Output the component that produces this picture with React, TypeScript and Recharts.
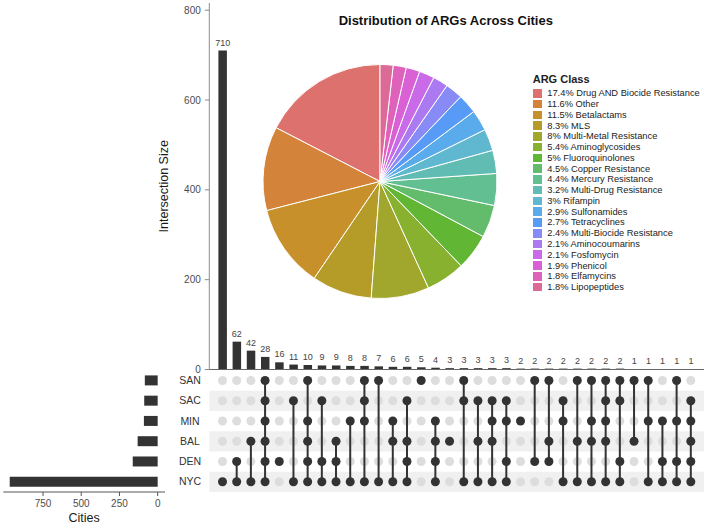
import React from 'react';
import {
  BarChart, Bar, XAxis, YAxis, LabelList, ReferenceLine, ReferenceArea,
  ScatterChart, Scatter, PieChart, Pie, Cell, Legend,
} from 'recharts';

// sets, top row first
const CITIES = ['SAN', 'SAC', 'MIN', 'BAL', 'DEN', 'NYC'];
const SET_SIZES = [84, 88, 90, 131, 163, 968];

// intersections, largest first
const INTERSECTION_SIZES = [
  710, 62, 42, 28, 16, 11, 10, 9, 9, 8, 8, 7, 6, 6, 5, 4, 3,
  3, 3, 3, 3, 2, 2, 2, 2, 2, 2, 2, 2, 1, 1, 1, 1, 1,
];
const INTERSECTION_SETS = [
  ['NYC'],
  ['DEN', 'NYC'],
  ['BAL', 'NYC'],
  ['SAN', 'SAC', 'MIN', 'BAL', 'DEN', 'NYC'],
  ['DEN'],
  ['SAC', 'NYC'],
  ['SAN', 'MIN', 'BAL', 'DEN', 'NYC'],
  ['SAC', 'DEN', 'NYC'],
  ['BAL', 'DEN', 'NYC'],
  ['MIN', 'NYC'],
  ['SAN', 'SAC', 'MIN', 'NYC'],
  ['SAN', 'NYC'],
  ['MIN', 'BAL', 'NYC'],
  ['SAC', 'BAL', 'DEN', 'NYC'],
  ['SAN'],
  ['MIN', 'BAL', 'DEN', 'NYC'],
  ['BAL'],
  ['SAN', 'SAC', 'NYC'],
  ['SAC', 'BAL', 'NYC'],
  ['SAC', 'MIN', 'BAL', 'NYC'],
  ['SAC', 'MIN', 'DEN', 'NYC'],
  ['MIN'],
  ['SAN', 'DEN'],
  ['SAN', 'BAL', 'DEN'],
  ['SAC', 'MIN', 'NYC'],
  ['SAN', 'BAL', 'NYC'],
  ['SAN', 'MIN', 'BAL', 'NYC'],
  ['SAN', 'SAC', 'MIN', 'BAL', 'NYC'],
  ['SAN', 'SAC', 'DEN', 'NYC'],
  ['SAN', 'BAL'],
  ['SAN', 'MIN', 'NYC'],
  ['MIN', 'DEN', 'NYC'],
  ['SAN', 'MIN', 'DEN', 'NYC'],
  ['SAC', 'MIN', 'BAL', 'DEN', 'NYC'],
];

// ARG class shares (%)
const ARG_CLASSES = [
  'Drug AND Biocide Resistance', 'Other', 'Betalactams', 'MLS',
  'Multi-Metal Resistance', 'Aminoglycosides', 'Fluoroquinolones',
  'Copper Resistance', 'Mercury Resistance', 'Multi-Drug Resistance',
  'Rifampin', 'Sulfonamides', 'Tetracyclines', 'Multi-Biocide Resistance',
  'Aminocoumarins', 'Fosfomycin', 'Phenicol', 'Elfamycins', 'Lipopeptides',
];
const ARG_PCTS = [17.4, 11.6, 11.5, 8.3, 8, 5.4, 5, 4.5, 4.4, 3.2, 3, 2.9, 2.7, 2.4, 2.1, 2.1, 1.9, 1.8, 1.8];
const ARG_COLORS = [
  '#DC716D', '#D3833A', '#C7902A', '#B59C28', '#A1A72C', '#87B12E', '#61B633',
  '#63BC6C', '#62BF92', '#61BDB3', '#5FB8D0', '#5AABEB', '#589BF6', '#888BF5',
  '#AB7AF0', '#C96BE8', '#DA60D5', '#DE62B9', '#DC6A97',
];

const FONT = '"Liberation Sans", Arial, sans-serif';
const DARK = '#333333';
const X_DOMAIN: [number, number] = [0.07, 34.93];

const barData = INTERSECTION_SIZES.map((size, i) => ({ col: i + 1, size }));
const setData = CITIES.map((city, i) => ({ city, size: SET_SIZES[i] }));
const pieData = ARG_CLASSES.map((name, i) => ({ name, pct: ARG_PCTS[i] }));

const columnDots = INTERSECTION_SETS.map((sets, i) =>
  sets
    .map((c) => ({ x: i + 1, y: CITIES.indexOf(c) }))
    .sort((a, b) => a.y - b.y)
);
const emptyDots = INTERSECTION_SETS.flatMap((sets, i) =>
  CITIES.filter((c) => !sets.includes(c)).map((c) => ({ x: i + 1, y: CITIES.indexOf(c) }))
);

const dot = (fill: string) => (p: any) => <circle cx={p.cx} cy={p.cy} r={4.5} fill={fill} />;

const CityTick = (p: any) => (
  <text x={p.x} y={p.y} dy="0.35em" textAnchor="middle" fontSize={10.5} fill="#333">
    {CITIES[p.payload.value]}
  </text>
);

function ArgLegend() {
  return (
    <div style={{ fontFamily: FONT, color: '#222' }}>
      <div style={{ fontWeight: 'bold', fontSize: 11, lineHeight: '12px', marginBottom: 3 }}>ARG Class</div>
      {ARG_CLASSES.map((name, i) => (
        <div key={name} style={{ display: 'flex', alignItems: 'center', height: 10.77, fontSize: 9.3, whiteSpace: 'nowrap' }}>
          <span style={{ width: 9, height: 8.6, background: ARG_COLORS[i], marginRight: 5.6, flex: 'none' }} />
          <span>{`${ARG_PCTS[i]}% ${name}`}</span>
        </div>
      ))}
    </div>
  );
}

export default function App() {
  return (
    <div style={{ position: 'absolute', left: 0, top: 0, width: 708, height: 524, background: '#fff', fontFamily: FONT, overflow: 'hidden' }}>
      {/* intersection sizes */}
      <div style={{ position: 'absolute', left: 0, top: 0 }}>
        <BarChart width={708} height={380} data={barData} margin={{ top: 3, right: 4, bottom: 10.5, left: 159.3 }}>
          <XAxis type="number" dataKey="col" domain={X_DOMAIN} hide />
          <YAxis
            type="number"
            domain={[0, 816]}
            ticks={[0, 200, 400, 600, 800]}
            width={50}
            tickSize={4.5}
            tickMargin={4}
            axisLine={{ stroke: '#8c8c8c' }}
            tickLine={{ stroke: '#8c8c8c' }}
            tick={{ fontSize: 10, fill: '#4d4d4d' }}
            label={{ value: 'Intersection Size', angle: -90, position: 'insideLeft', offset: 4, textAnchor: 'middle', fontSize: 12.5, fill: '#1a1a1a' }}
          />
          <ReferenceLine y={0} stroke="#666" />
          <Bar dataKey="size" fill={DARK} barSize={8.5} isAnimationActive={false}>
            <LabelList dataKey="size" position="top" offset={5} fontSize={9} fill="#444" />
          </Bar>
        </BarChart>
      </div>

      {/* membership matrix */}
      <div style={{ position: 'absolute', left: 0, top: 360 }}>
        <ScatterChart width={708} height={140} margin={{ top: 10.4, right: 4, bottom: 8.1, left: 149.3 }}>
          <XAxis type="number" dataKey="x" domain={X_DOMAIN} hide />
          <YAxis
            type="number"
            dataKey="y"
            domain={[-0.5, 5.5]}
            reversed
            ticks={[0, 1, 2, 3, 4, 5]}
            interval={0}
            width={60}
            tickSize={0}
            tickMargin={19.3}
            axisLine={false}
            tickLine={false}
            tick={CityTick}
          />
          {[1, 3, 5].map((r) => (
            <ReferenceArea key={r} y1={r - 0.5} y2={r + 0.5} fill="#F0F0F0" fillOpacity={1} stroke="none" ifOverflow="visible" />
          ))}
          <Scatter data={emptyDots} shape={dot('#DDDDDD')} isAnimationActive={false} />
          {columnDots.map((pts, i) => (
            <Scatter
              key={i}
              data={pts}
              shape={dot(DARK)}
              line={{ stroke: DARK, strokeWidth: 2 }}
              isAnimationActive={false}
            />
          ))}
        </ScatterChart>
      </div>

      {/* set sizes */}
      <div style={{ position: 'absolute', left: 0, top: 360 }}>
        <BarChart width={180} height={164} layout="vertical" data={setData} margin={{ top: 10.4, right: 15, bottom: 0, left: 3.3 }}>
          <XAxis
            type="number"
            domain={[-48, 1010]}
            reversed
            ticks={[0, 250, 500, 750]}
            interval={0}
            height={32}
            tickSize={4}
            tickMargin={3.5}
            axisLine={{ stroke: '#555' }}
            tickLine={{ stroke: '#555' }}
            tick={{ fontSize: 10, fill: '#4d4d4d' }}
            label={{ value: 'Cities', position: 'insideBottom', offset: 2, fontSize: 12.5, fill: '#1a1a1a' }}
          />
          <YAxis type="category" dataKey="city" hide />
          <Bar dataKey="size" fill={DARK} barSize={10} isAnimationActive={false} />
        </BarChart>
      </div>

      {/* ARG class composition */}
      <div style={{ position: 'absolute', left: 250, top: 0 }}>
        <PieChart width={458} height={310} margin={{ top: 0, right: 0, bottom: 0, left: 0 }}>
          <Pie
            data={pieData}
            dataKey="pct"
            nameKey="name"
            cx={130}
            cy={181.5}
            outerRadius={117}
            startAngle={90}
            endAngle={450}
            stroke="#fff"
            strokeWidth={1}
            isAnimationActive={false}
          >
            {pieData.map((d, i) => (
              <Cell key={d.name} fill={ARG_COLORS[i]} />
            ))}
          </Pie>
          <Legend
            layout="vertical"
            align="right"
            verticalAlign="middle"
            content={() => <ArgLegend />}
            wrapperStyle={{ left: 282.7, top: 72.9, width: 176 }}
          />
        </PieChart>
      </div>

      <div style={{ position: 'absolute', left: 245.8, top: 13.5, width: 400, textAlign: 'center', fontSize: 13, lineHeight: '14px', fontWeight: 'bold', color: '#111' }}>
        Distribution of ARGs Across Cities
      </div>
    </div>
  );
}
